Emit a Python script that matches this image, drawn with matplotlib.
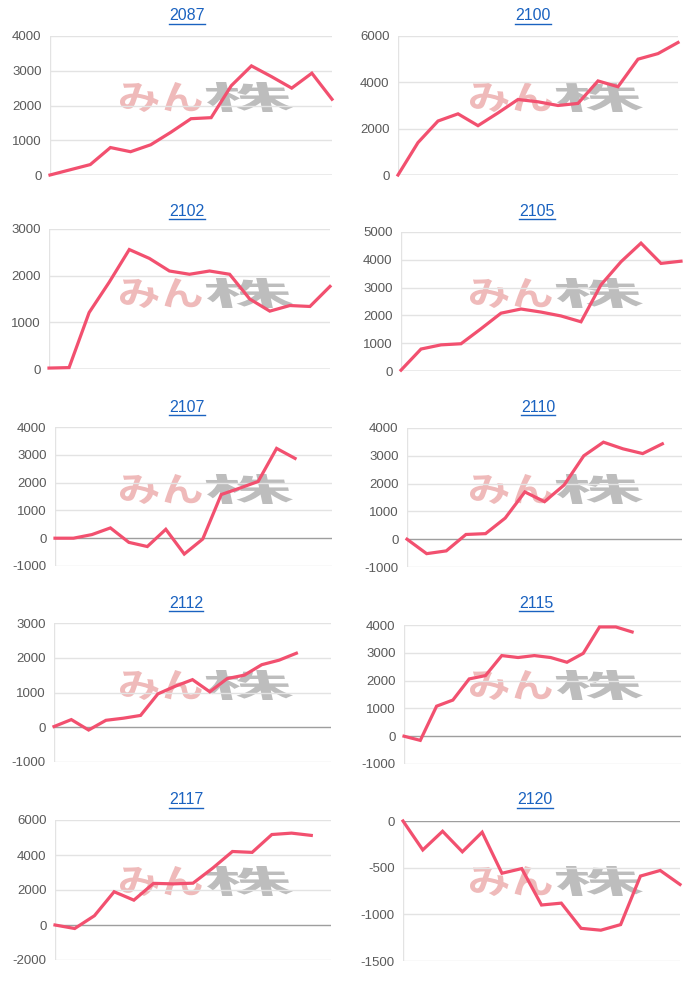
import matplotlib
matplotlib.use("Agg")
import matplotlib.pyplot as plt
from matplotlib.lines import Line2D
from matplotlib.textpath import TextPath
from matplotlib.patches import PathPatch
from matplotlib.font_manager import FontProperties
from matplotlib.transforms import Affine2D

# ---------------- data ----------------
titles = ["2087", "2100", "2102", "2105", "2107", "2110", "2112", "2115", "2117", "2120"]
n_categories = [15, 15, 15, 15, 16, 15, 17, 18, 15, 15]
v2087 = [0, 150, 300, 790, 670, 870, 1230, 1620, 1650, 2570, 3140, 2830, 2500, 2930, 2180]
v2100 = [0, 1400, 2330, 2640, 2130, 2680, 3260, 3160, 3000, 3090, 4060, 3810, 5000, 5240, 5720]
v2102 = [20, 30, 1210, 1860, 2560, 2370, 2100, 2030, 2100, 2030, 1500, 1240, 1360, 1340, 1770]
v2105 = [30, 790, 940, 980, 1520, 2080, 2230, 2120, 1980, 1770, 3100, 3930, 4600, 3870, 3950]
v2107 = [0, 0, 130, 370, -150, -300, 320, -570, -30, 1570, 1800, 2040, 3230, 2870]
v2110 = [0, -520, -420, 170, 200, 760, 1700, 1350, 1950, 3000, 3490, 3250, 3080, 3430]
v2112 = [20, 220, -80, 200, 260, 340, 960, 1180, 1370, 1020, 1400, 1500, 1800, 1930, 2130]
v2115 = [0, -150, 1080, 1300, 2060, 2180, 2900, 2830, 2900, 2830, 2660, 2980, 3930, 3930, 3750]
v2117 = [0, -200, 530, 1900, 1420, 2380, 2350, 2390, 3250, 4200, 4150, 5170, 5250, 5120]
v2120 = [0, -310, -110, -330, -120, -560, -510, -900, -880, -1150, -1170, -1110, -590, -530, -680]
series = [v2087, v2100, v2102, v2105, v2107, v2110, v2112, v2115, v2117, v2120]
y_ticks = [
    [0, 1000, 2000, 3000, 4000],
    [0, 2000, 4000, 6000],
    [0, 1000, 2000, 3000],
    [0, 1000, 2000, 3000, 4000, 5000],
    [-1000, 0, 1000, 2000, 3000, 4000],
    [-1000, 0, 1000, 2000, 3000, 4000],
    [-1000, 0, 1000, 2000, 3000],
    [-1000, 0, 1000, 2000, 3000, 4000],
    [-2000, 0, 2000, 4000, 6000],
    [-1500, -1000, -500, 0],
]

# ---------------- layout (pixels: left, top, right, bottom) ----------------
W, H = 700, 981
boxes = [
    (50, 36, 332, 175), (398, 36, 678, 175),
    (49, 229, 330, 369), (401, 232, 681, 371),
    (55, 427, 332, 566), (407, 428, 682, 567),
    (54, 623, 331, 762), (404, 625, 681, 764),
    (55, 820, 331, 960), (403, 821, 680, 961),
]
title_pos = [(187, 16), (533, 16), (187, 211), (537, 211), (187, 407),
             (538, 407), (186, 603), (536, 603), (186, 800), (535, 800)]

LINE = "#f2506f"
TITLE_C = "#1a62c0"
TICK_C = "#5a5a5a"
GRID_C = "#e3e3e3"
ZERO_C = "#9e9e9e"

plt.rcParams["font.family"] = ["Liberation Sans", "DejaVu Sans"]
fig = plt.figure(figsize=(W / 100, H / 100), dpi=100)
fig.patch.set_facecolor("white")

cjk = FontProperties(family="Noto Sans CJK JP", weight="bold")


def watermark(cx, cy):
    for txt, color, x0, x1 in (("みん", "#efbaba", cx - 85, cx - 3), ("株", "#bdbdbd", cx + 2, cx + 87)):
        tp = TextPath((0, 0), txt, prop=cjk, size=100)
        ext = tp.get_extents()
        sx = (x1 - x0) / ext.width
        sy = 30 / ext.height
        tr = (Affine2D().translate(-ext.x0, -ext.y0).scale(sx, sy).skew_deg(-12, 0)
              .translate(x0 + 4, H - (cy + 15)).scale(1 / W, 1 / H) + fig.transFigure)
        p = PathPatch(tp, facecolor=color, edgecolor="none", transform=tr, zorder=-1)
        fig.add_artist(p)


titles_txt = []
for i, (vals, box) in enumerate(zip(series, boxes)):
    l, t, r, b = box
    ax = fig.add_axes([l / W, 1 - b / H, (r - l) / W, (b - t) / H])
    ax.set_facecolor("none")
    ax.set_zorder(1)
    n = n_categories[i]
    ticks = y_ticks[i]
    ax.set_xlim(0, n - 1)
    ax.set_ylim(ticks[0], ticks[-1])
    for tv in ticks:
        ax.axhline(tv, color=ZERO_C if tv == 0 else GRID_C, lw=1.0, zorder=1 if tv == 0 else 0.5)
    ax.axvline(0, color=GRID_C, lw=1.0, zorder=0.5)
    ax.plot(range(len(vals)), vals, color=LINE, lw=2.3, zorder=3, solid_joinstyle="miter",
            clip_on=False)
    ax.set_yticks(ticks)
    ax.set_yticklabels([str(v) for v in ticks])
    ax.set_xticks([])
    ax.tick_params(axis="y", length=0, pad=6, labelsize=9.5, labelcolor=TICK_C)
    for s in ax.spines.values():
        s.set_visible(False)
    col = 0 if i % 2 == 0 else 350
    row = i // 2
    watermark(col + 203, 97 + row * 196)
    tx, ty = title_pos[i]
    tt = fig.text(tx / W, 1 - ty / H, titles[i], ha="center", va="center", fontsize=11.5, color=TITLE_C)
    titles_txt.append(tt)

fig.canvas.draw()
ren = fig.canvas.get_renderer()
for tt in titles_txt:
    bb = tt.get_window_extent(renderer=ren)
    y = bb.y0 - 0.5
    fig.add_artist(Line2D([bb.x0 / W, bb.x1 / W], [y / H, y / H], color=TITLE_C, lw=1.0,
                          transform=fig.transFigure))

fig.savefig("out.png", dpi=100, facecolor="white")
